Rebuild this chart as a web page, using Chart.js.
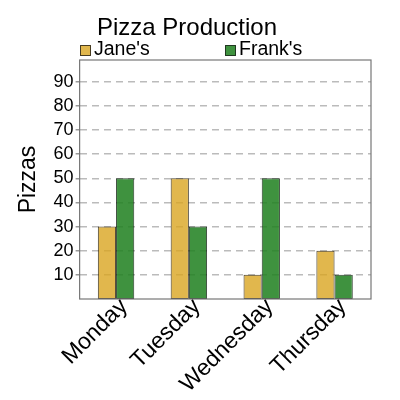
<!DOCTYPE html>
<html>
<head>
<meta charset="utf-8">
<script src="https://cdn.jsdelivr.net/npm/chart.js@4"></script>
<style>
  body { margin: 0; background: #fff; }
  #wrap { width: 400px; height: 400px; }
</style>
</head>
<body>
<div id="wrap"><canvas id="pizzaChart"></canvas></div>
<script>
// 資料
const days = ['Monday', 'Tuesday', 'Wednesday', 'Thursday'];
const janeValues = [30, 50, 10, 20];
const frankValues = [50, 30, 50, 10];
const yTicks = [10, 20, 30, 40, 50, 60, 70, 80, 90];
const chartTitle = 'Pizza Production';

const FONT = 'Liberation Sans';

// 標題、圖例與外框
const headerAndFrame = {
  id: 'headerAndFrame',
  afterDraw(chart) {
    const a = chart.chartArea;
    const ctx = chart.ctx;
    ctx.save();
    ctx.strokeStyle = '#777';
    ctx.lineWidth = 1.2;
    ctx.strokeRect(a.left, a.top, a.right - a.left, a.bottom - a.top);

    // 標題
    ctx.fillStyle = '#000';
    ctx.font = '24px "' + FONT + '"';
    ctx.textAlign = 'center';
    ctx.textBaseline = 'alphabetic';
    ctx.fillText(chartTitle, 187, 35);

    // 圖例
    ctx.font = '19.5px "' + FONT + '"';
    ctx.textAlign = 'left';
    const legendX = [80, 225];
    chart.data.datasets.forEach((ds, i) => {
      const x = legendX[i];
      ctx.fillStyle = ds.backgroundColor;
      ctx.fillRect(x + 0.5, 45.5, 10, 10);
      ctx.strokeStyle = ds.borderColor;
      ctx.lineWidth = 1;
      ctx.strokeRect(x + 0.5, 45.5, 10, 10);
      ctx.fillStyle = '#000';
      ctx.fillText(ds.label, x + 14, 55);
    });
    ctx.restore();
  }
};

const chartData = {
  labels: days,
  datasets: [
    {
      label: "Jane's",
      data: janeValues,
      backgroundColor: 'rgba(218, 165, 32, 0.8)',
      borderColor: 'rgba(30, 20, 0, 0.8)',
      borderWidth: 1,
      borderSkipped: false
    },
    {
      label: "Frank's",
      data: frankValues,
      backgroundColor: 'rgba(34, 130, 34, 0.87)',
      borderColor: 'rgba(0, 20, 0, 0.8)',
      borderWidth: 1,
      borderSkipped: false
    }
  ]
};

const options = {
  responsive: true,
  maintainAspectRatio: false,
  animation: false,
  categoryPercentage: 0.5,
  barPercentage: 1.0,
  layout: { padding: { left: 11, right: 29, top: 60, bottom: 4 } },
  scales: {
    x: {
      grid: { display: false, drawTicks: false, tickLength: 0 },
      border: { display: false },
      afterFit(axis) {
        axis.height = 97;
      },
      ticks: {
        color: '#000',
        maxRotation: 45,
        minRotation: 45,
        padding: -6,
        labelOffset: 8,
        font: { family: FONT, size: 23 }
      }
    },
    y: {
      min: 0,
      max: 99,
      afterBuildTicks(axis) {
        axis.ticks = yTicks.map(v => ({ value: v }));
      },
      grid: {
        color: '#bbb',
        lineWidth: 1.5,
        tickLength: 4,
        tickColor: '#999'
      },
      border: { display: false, dash: [7, 5] },
      ticks: {
        color: '#000',
        padding: 2,
        font: { family: FONT, size: 18 }
      },
      title: {
        display: true,
        text: 'Pizzas',
        color: '#000',
        padding: { bottom: 9 },
        font: { family: FONT, size: 23 }
      }
    }
  },
  plugins: {
    legend: { display: false },
    tooltip: { enabled: false }
  }
};

const ctx = document.getElementById('pizzaChart');
const pizzaChart = new Chart(ctx, {
  type: 'bar',
  data: chartData,
  options: options,
  plugins: [headerAndFrame]
});
</script>
</body>
</html>
